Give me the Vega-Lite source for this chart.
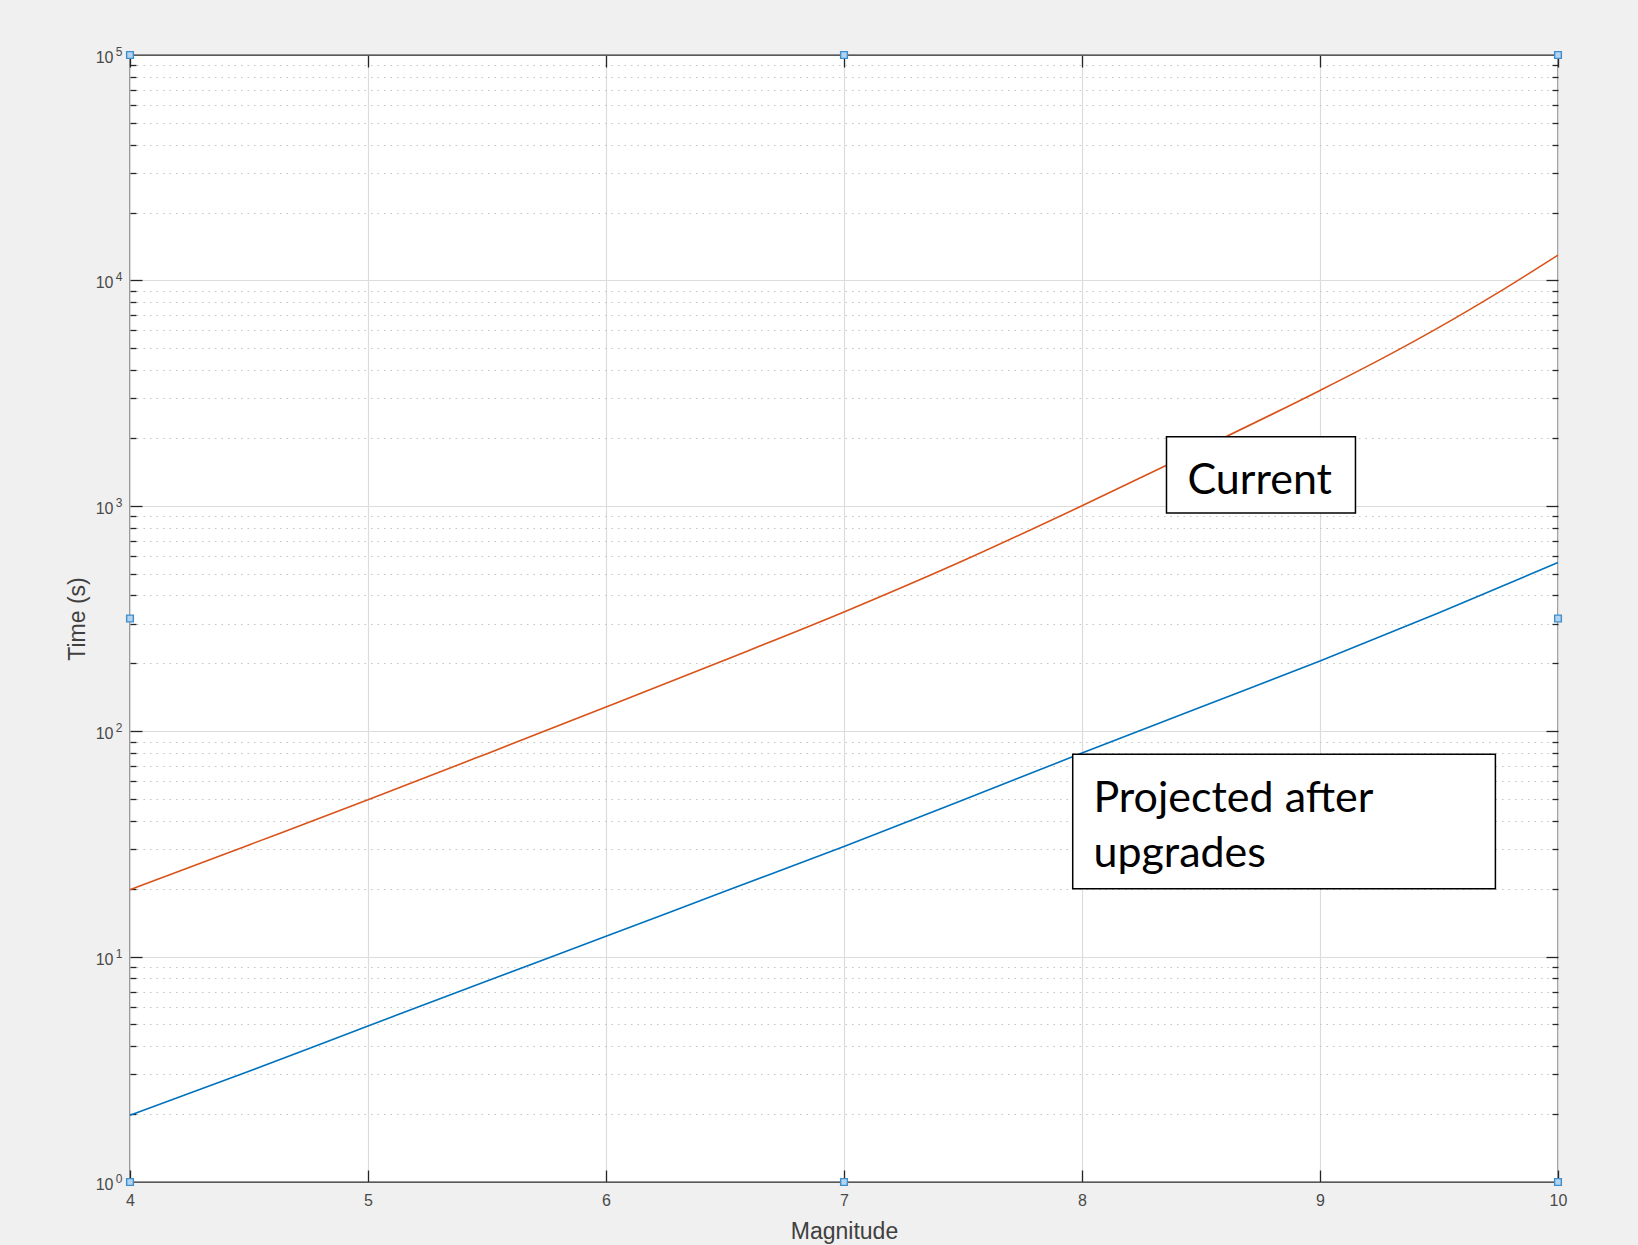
{
  "$schema": "https://vega.github.io/schema/vega-lite/v6.json",
  "width": 1428,
  "height": 1127,
  "autosize": {"type": "none"},
  "padding": {"left": 130, "top": 55, "right": 80, "bottom": 63},
  "background": "#f0f0f0",
  "config": {
    "view": {"stroke": "#262626", "strokeWidth": 1.3, "fill": "white"},
    "axis": {
      "domain": false,
      "labelFont": "Liberation Sans",
      "titleFont": "Liberation Sans",
      "labelColor": "#4a4a4a",
      "titleColor": "#404040",
      "tickColor": "#262626",
      "tickWidth": 1.3,
      "titleFontWeight": "normal",
      "labelFlush": false,
      "labelOverlap": false
    }
  },
  "datasets": {
    "series": [
      {"series": "Current", "magnitude": 4, "time": 19.8},
      {"series": "Current", "magnitude": 4.5, "time": 31.3},
      {"series": "Current", "magnitude": 5, "time": 49.6},
      {"series": "Current", "magnitude": 5.5, "time": 79.5},
      {"series": "Current", "magnitude": 6, "time": 128},
      {"series": "Current", "magnitude": 6.5, "time": 207},
      {"series": "Current", "magnitude": 7, "time": 338},
      {"series": "Current", "magnitude": 7.5, "time": 570},
      {"series": "Current", "magnitude": 8, "time": 1000},
      {"series": "Current", "magnitude": 8.5, "time": 1790},
      {"series": "Current", "magnitude": 9, "time": 3250},
      {"series": "Current", "magnitude": 9.25, "time": 4440},
      {"series": "Current", "magnitude": 9.5, "time": 6190},
      {"series": "Current", "magnitude": 9.75, "time": 8850},
      {"series": "Current", "magnitude": 10, "time": 12950},
      {"series": "Projected", "magnitude": 4, "time": 1.98},
      {"series": "Projected", "magnitude": 4.5, "time": 3.1},
      {"series": "Projected", "magnitude": 5, "time": 4.92},
      {"series": "Projected", "magnitude": 5.5, "time": 7.8},
      {"series": "Projected", "magnitude": 6, "time": 12.3},
      {"series": "Projected", "magnitude": 6.5, "time": 19.5},
      {"series": "Projected", "magnitude": 7, "time": 30.8},
      {"series": "Projected", "magnitude": 7.5, "time": 49.5},
      {"series": "Projected", "magnitude": 8, "time": 80},
      {"series": "Projected", "magnitude": 8.5, "time": 128},
      {"series": "Projected", "magnitude": 9, "time": 205},
      {"series": "Projected", "magnitude": 9.5, "time": 335},
      {"series": "Projected", "magnitude": 10, "time": 560}
    ],
    "boxes": [
      {"box": "Current", "m1": 8.355, "m2": 9.149, "t1": 929, "t2": 2023},
      {"box": "Projected", "m1": 7.961, "m2": 9.737, "t1": 20.0, "t2": 79.1}
    ],
    "labels": [
      {"text": "Current", "magnitude": 8.443, "time": 1125},
      {"text": "Projected after", "magnitude": 8.048, "time": 43.6},
      {"text": "upgrades", "magnitude": 8.048, "time": 25.0}
    ],
    "handles": [
      {"magnitude": 4, "time": 1},
      {"magnitude": 7, "time": 1},
      {"magnitude": 10, "time": 1},
      {"magnitude": 4, "time": 316.2},
      {"magnitude": 10, "time": 316.2},
      {"magnitude": 4, "time": 100000},
      {"magnitude": 7, "time": 100000},
      {"magnitude": 10, "time": 100000}
    ]
  },
  "resolve": {"axis": {"x": "independent", "y": "independent"}},
  "layer": [
    {
      "data": {"name": "series"},
      "transform": [{"filter": "datum.series == 'Current'"}],
      "mark": {"type": "line", "color": "#D95319", "strokeWidth": 1.6, "interpolate": "monotone"},
      "encoding": {
        "x": {
          "field": "magnitude", "type": "quantitative",
          "scale": {"domain": [4, 10], "nice": false, "zero": false},
          "axis": {"orient": "bottom", "values": [4, 5, 6, 7, 8, 9, 10], "ticks": false, "labelPadding": 10, "labelFontSize": 16, "grid": true, "gridColor": "#dcdcdc", "gridWidth": 1.2, "title": "Magnitude", "titleFontSize": 23, "titlePadding": 12}
        },
        "y": {
          "field": "time", "type": "quantitative",
          "scale": {"type": "log", "domain": [1, 100000], "nice": false},
          "axis": {"orient": "left", "values": [2,3,4,5,6,7,8,9,10,20,30,40,50,60,70,80,90,100,200,300,400,500,600,700,800,900,1000,2000,3000,4000,5000,6000,7000,8000,9000,10000,20000,30000,40000,50000,60000,70000,80000,90000],
            "labels": false, "title": null,
            "tickSize": {"condition": {"test": "abs(log(datum.value)/LN10 - round(log(datum.value)/LN10)) < 0.000001", "value": -12}, "value": -6},
            "grid": true,
            "gridDash": {"condition": {"test": "abs(log(datum.value)/LN10 - round(log(datum.value)/LN10)) < 0.000001", "value": []}, "value": [1.5, 5]},
            "gridColor": {"condition": {"test": "abs(log(datum.value)/LN10 - round(log(datum.value)/LN10)) < 0.000001", "value": "#dcdcdc"}, "value": "#c4c4c4"},
            "gridWidth": 1.2}
        }
      }
    },
    {
      "data": {"name": "series"},
      "transform": [{"filter": "datum.series == 'Projected'"}],
      "mark": {"type": "line", "color": "#0072BD", "strokeWidth": 1.6, "interpolate": "monotone"},
      "encoding": {
        "x": {
          "field": "magnitude", "type": "quantitative",
          "axis": {"orient": "bottom", "values": [4, 5, 6, 7, 8, 9, 10], "tickSize": -12, "labels": false, "grid": false, "title": null}
        },
        "y": {
          "field": "time", "type": "quantitative",
          "axis": {"orient": "left", "values": [1, 10, 100, 1000, 10000, 100000], "ticks": false, "labelPadding": 17, "labelFontSize": 16, "labelOffset": 2.5, "labelExpr": "'10'", "grid": false, "title": "Time (s)", "titleFontSize": 23, "titlePadding": 6}
        }
      }
    },
    {
      "data": {"name": "boxes"},
      "mark": {"type": "rect", "fill": "white", "stroke": "black", "strokeWidth": 1.5},
      "encoding": {
        "x": {
          "field": "m1", "type": "quantitative",
          "axis": {"orient": "top", "values": [4, 5, 6, 7, 8, 9, 10], "tickSize": -12, "labels": false, "grid": false, "title": null}
        },
        "x2": {"field": "m2"},
        "y": {
          "field": "t1", "type": "quantitative",
          "axis": {"orient": "left", "values": [1, 10, 100, 1000, 10000, 100000], "ticks": false, "labelPadding": 8, "labelFontSize": 12, "labelOffset": -3.5, "labelExpr": "'' + round(log(datum.value)/LN10)", "grid": false, "title": null}
        },
        "y2": {"field": "t2"}
      }
    },
    {
      "data": {"name": "labels"},
      "mark": {"type": "text", "font": "Lato", "fontSize": 43, "align": "left", "baseline": "alphabetic", "color": "black"},
      "encoding": {
        "x": {"field": "magnitude", "type": "quantitative", "axis": null},
        "y": {
          "field": "time", "type": "quantitative",
          "axis": {"orient": "right", "values": [2,3,4,5,6,7,8,9,10,20,30,40,50,60,70,80,90,100,200,300,400,500,600,700,800,900,1000,2000,3000,4000,5000,6000,7000,8000,9000,10000,20000,30000,40000,50000,60000,70000,80000,90000],
            "labels": false, "grid": false, "title": null,
            "tickSize": {"condition": {"test": "abs(log(datum.value)/LN10 - round(log(datum.value)/LN10)) < 0.000001", "value": -12}, "value": -6}}
        },
        "text": {"field": "text"}
      }
    },
    {
      "data": {"name": "handles"},
      "mark": {"type": "point", "shape": "square", "size": 45, "filled": true, "fill": "#b4d3ee", "stroke": "#3f8fcf", "strokeWidth": 1.4, "opacity": 1},
      "encoding": {
        "x": {"field": "magnitude", "type": "quantitative", "axis": null},
        "y": {"field": "time", "type": "quantitative", "axis": null}
      }
    }
  ]
}
